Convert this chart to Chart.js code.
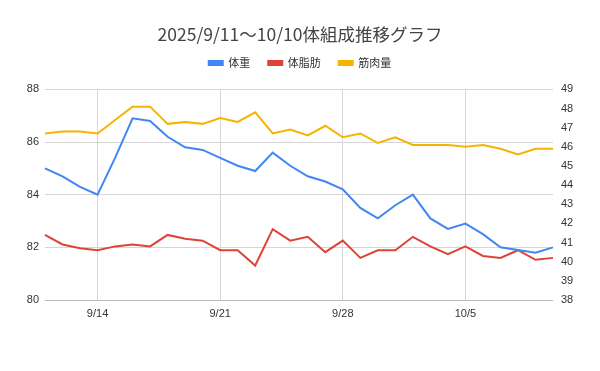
<!DOCTYPE html>
<html>
<head>
<meta charset="utf-8">
<script src="https://cdn.jsdelivr.net/npm/chart.js@4"></script>
<style>
  body { margin: 0; background: #fff; }
  #wrap { width: 600px; height: 371px; }
</style>
</head>
<body>
<div id="wrap"><canvas id="taisoseiChart" width="600" height="371"></canvas></div>
<script>
const hizuke = ['9/11', '9/12', '9/13', '9/14', '9/15', '9/16', '9/17', '9/18', '9/19', '9/20',
    '9/21', '9/22', '9/23', '9/24', '9/25', '9/26', '9/27', '9/28', '9/29', '9/30',
    '10/1', '10/2', '10/3', '10/4', '10/5', '10/6', '10/7', '10/8', '10/9', '10/10'];

const taiju = [85.0, 84.7, 84.3, 84.0, 85.4, 86.9, 86.8, 86.2, 85.8, 85.7,
    85.4, 85.1, 84.9, 85.6, 85.1, 84.7, 84.5, 84.2, 83.5, 83.1,
    83.6, 84.0, 83.1, 82.7, 82.9, 82.5, 82.0, 81.9, 81.8, 82.0];

const taishibou = [41.4, 40.9, 40.7, 40.6, 40.8, 40.9, 40.8, 41.4, 41.2, 41.1,
    40.6, 40.6, 39.8, 41.7, 41.1, 41.3, 40.5, 41.1, 40.2, 40.6,
    40.6, 41.3, 40.8, 40.4, 40.8, 40.3, 40.2, 40.6, 40.1, 40.2];

const kinnikuryou = [46.7, 46.8, 46.8, 46.7, 47.4, 48.1, 48.1, 47.2, 47.3, 47.2,
    47.5, 47.3, 47.8, 46.7, 46.9, 46.6, 47.1, 46.5, 46.7, 46.2,
    46.5, 46.1, 46.1, 46.1, 46.0, 46.1, 45.9, 45.6, 45.9, 45.9];

// 縦の目盛線を引く日付
const memoriHi = ['9/14', '9/21', '9/28', '10/5'];

const ctx = document.getElementById('taisoseiChart').getContext('2d');

const sen = (label, data, color, axis) => ({
    label: label,
    data: data,
    borderColor: color,
    backgroundColor: color,
    borderWidth: 2,
    pointRadius: 0,
    tension: 0,
    yAxisID: axis
});

const tickFont = { family: '"Liberation Sans", Arial, sans-serif', size: 11 };

// 凡例の下に少し余白を足す
const hanreiYohaku = {
    id: 'hanreiYohaku',
    beforeInit(chart) {
        const fit = chart.legend.fit;
        chart.legend.fit = function() {
            fit.bind(chart.legend)();
            this.height += 11;
        };
    }
};

new Chart(ctx, {
    type: 'line',
    data: {
        labels: hizuke,
        datasets: [
            sen('体重', taiju, '#4285f4', 'y'),
            sen('体脂肪', taishibou, '#db4437', 'y1'),
            sen('筋肉量', kinnikuryou, '#f4b400', 'y1')
        ]
    },
    options: {
        responsive: false,
        animation: false,
        layout: { padding: 0 },
        plugins: {
            title: {
                display: true,
                text: '2025/9/11～10/10体組成推移グラフ',
                color: '#444',
                font: { family: '"Noto Sans CJK JP", sans-serif', size: 17.5, weight: 'normal' },
                padding: { top: 24, bottom: -5.6 }
            },
            legend: {
                labels: {
                    boxWidth: 14,
                    boxHeight: 4,
                    color: '#333',
                    padding: 18,
                    font: { family: '"Noto Sans CJK JP", sans-serif', size: 11 }
                }
            },
            tooltip: { enabled: false }
        },
        scales: {
            x: {
                grid: {
                    drawTicks: false,
                    color: c => memoriHi.includes(hizuke[c.index]) ? '#d6d6d6' : 'rgba(0,0,0,0)'
                },
                border: { display: false },
                ticks: {
                    autoSkip: false,
                    maxRotation: 0,
                    padding: 7,
                    color: '#333',
                    font: tickFont,
                    callback: function(v, i) {
                        return memoriHi.includes(hizuke[i]) ? hizuke[i] : '';
                    }
                },
                afterFit: s => { s.height = 71; }
            },
            y: {
                position: 'left',
                min: 80,
                max: 88,
                ticks: { stepSize: 2, padding: 6, color: '#333', font: tickFont },
                grid: { drawTicks: false, color: c => c.tick.value === 80 ? '#bdbdbd' : '#d6d6d6' },
                border: { display: false },
                afterFit: s => { s.width = 45; }
            },
            y1: {
                position: 'right',
                min: 38,
                max: 49,
                ticks: { stepSize: 1, padding: 8, color: '#333', font: tickFont },
                grid: { display: false, drawTicks: false },
                border: { display: false },
                afterFit: s => { s.width = 47; }
            }
        }
    },
    plugins: [hanreiYohaku]
});
</script>
</body>
</html>
